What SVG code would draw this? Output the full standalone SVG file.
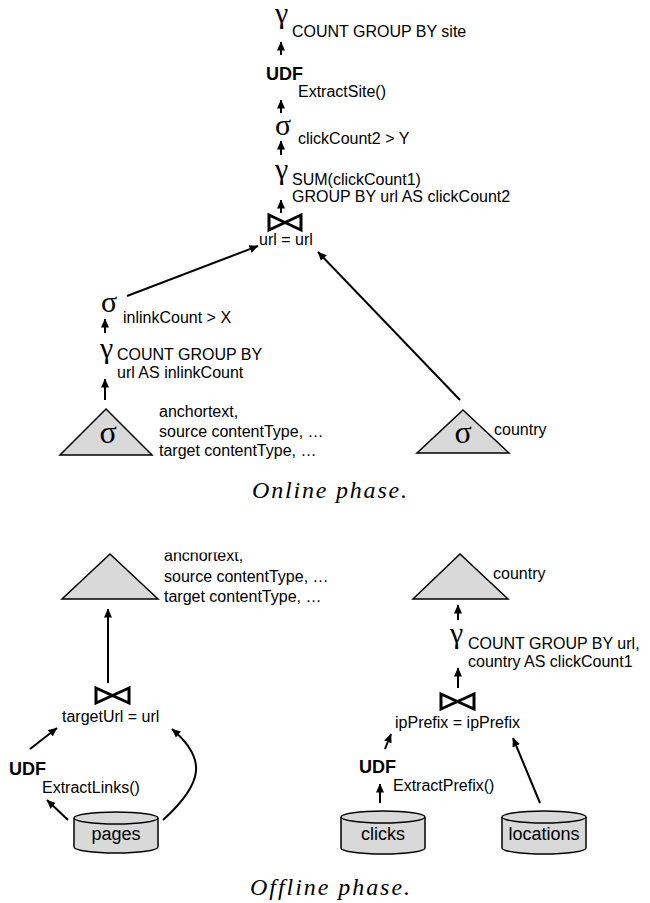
<svg xmlns="http://www.w3.org/2000/svg" width="650" height="903" viewBox="0 0 650 903">
<style>
.t{font-family:"Liberation Sans",Arial,sans-serif;font-size:16px;fill:#000}
.b{font-family:"Liberation Sans",Arial,sans-serif;font-size:18px;font-weight:bold;fill:#000}
.db{font-family:"Liberation Sans",Arial,sans-serif;font-size:18px;fill:#000;text-anchor:middle}
.g{font-family:"Liberation Serif","Times New Roman",serif;font-size:30px;fill:#000}
.gc{font-family:"Liberation Serif","Times New Roman",serif;font-size:32px;fill:#000;text-anchor:middle}
.cap{font-family:"Liberation Serif","Times New Roman",serif;font-style:italic;font-size:24px;fill:#000}
.tri{fill:#d9d9d9;stroke:#000;stroke-width:1.5;stroke-linejoin:miter}
.cyl{fill:#d9d9d9;stroke:#000;stroke-width:1.5}
.bt{fill:none;stroke:#000;stroke-width:3;stroke-linejoin:miter}
.c{fill:none;stroke:#000;stroke-width:2;marker-end:url(#ah)}
</style>
<defs>
<marker id="ah" markerWidth="9" markerHeight="9" refX="8.5" refY="4.5" orient="auto" markerUnits="userSpaceOnUse">
<path d="M0,0.5 L9,4.5 L0,8.5 Z" fill="#000"/>
</marker>
<clipPath id="clipA"><rect x="150" y="552.5" width="200" height="20"/></clipPath>
</defs>

<!-- Online phase -->
<g id="gamma-site">
<text class="g" x="275" y="23">γ</text>
<text class="t" x="292" y="37">COUNT GROUP BY site</text>
</g>
<g id="udf-site">
<text class="b" x="266" y="80">UDF</text>
<text class="t" x="298" y="97">ExtractSite()</text>
</g>
<g id="sigma-click">
<text class="g" x="275" y="135">σ</text>
<text class="t" x="298" y="144">clickCount2 &gt; Y</text>
</g>
<g id="gamma-sum">
<text class="g" x="275" y="179">γ</text>
<text class="t" x="292" y="185">SUM(clickCount1)</text>
<text class="t" x="292" y="202">GROUP BY url AS clickCount2</text>
</g>
<g id="join-url">
<path class="bt" d="M269,215 L301,230 L301,215 L269,230 Z"/>
<text class="t" x="259" y="245">url = url</text>
</g>
<g id="sigma-inlink">
<text class="g" x="101" y="312">σ</text>
<text class="t" x="123" y="323">inlinkCount &gt; X</text>
</g>
<g id="gamma-inlink">
<text class="g" x="100" y="358">γ</text>
<text class="t" x="117" y="360">COUNT GROUP BY</text>
<text class="t" x="117" y="378">url AS inlinkCount</text>
</g>
<g id="view-anchor">
<polygon class="tri" points="106,409 152,455 60,455"/>
<text class="gc" x="108" y="443">σ</text>
<text class="t" x="159" y="417">anchortext,</text>
<text class="t" x="159" y="437">source contentType, …</text>
<text class="t" x="159" y="456">target contentType, …</text>
</g>
<g id="view-country">
<polygon class="tri" points="463,410 509,453 417,453"/>
<text class="gc" x="463" y="443">σ</text>
<text class="t" x="494" y="435">country</text>
</g>
<text class="cap" x="252" y="498" textLength="155" lengthAdjust="spacing">Online phase.</text>

<!-- Offline phase -->
<g id="mv-anchor">
<polygon class="tri" points="110,554 158,599 62,599"/>
<text class="t" x="164" y="561" clip-path="url(#clipA)">anchortext,</text>
<text class="t" x="164" y="582">source contentType, …</text>
<text class="t" x="164" y="602">target contentType, …</text>
</g>
<g id="join-target">
<path class="bt" d="M96,688 L129,703 L129,688 L96,703 Z"/>
<text class="t" x="62" y="722">targetUrl = url</text>
</g>
<g id="udf-links">
<text class="b" x="9" y="775">UDF</text>
<text class="t" x="42" y="793">ExtractLinks()</text>
</g>
<g id="pages">
<path class="cyl" d="M74,818 A42,6 0 0,1 158,818 V847 A42,6 0 0,1 74,847 Z"/>
<path class="cyl" d="M74,818 A42,6 0 0,0 158,818" fill="none"/>
<text class="db" x="116" y="840">pages</text>
</g>
<g id="mv-country">
<polygon class="tri" points="460,554 508,599 413,599"/>
<text class="t" x="493" y="579">country</text>
</g>
<g id="gamma-click">
<text class="g" x="450" y="643">γ</text>
<text class="t" x="468" y="649">COUNT GROUP BY url,</text>
<text class="t" x="468" y="667">country AS clickCount1</text>
</g>
<g id="join-prefix">
<path class="bt" d="M441,694 L474,709 L474,694 L441,709 Z"/>
<text class="t" x="395" y="728">ipPrefix = ipPrefix</text>
</g>
<g id="udf-prefix">
<text class="b" x="359" y="773">UDF</text>
<text class="t" x="393" y="791">ExtractPrefix()</text>
</g>
<g id="clicks">
<path class="cyl" d="M341,817 A42,6 0 0,1 425,817 V848 A42,6 0 0,1 341,848 Z"/>
<path class="cyl" d="M341,817 A42,6 0 0,0 425,817" fill="none"/>
<text class="db" x="383" y="840">clicks</text>
</g>
<g id="locations">
<path class="cyl" d="M502,817 A42,6 0 0,1 586,817 V848 A42,6 0 0,1 502,848 Z"/>
<path class="cyl" d="M502,817 A42,6 0 0,0 586,817" fill="none"/>
<text class="db" x="544" y="840">locations</text>
</g>
<text class="cap" x="250" y="895" textLength="160" lengthAdjust="spacing">Offline phase.</text>

<g id="connectors">
<path class="c" d="M281,55 V42"/>
<path class="c" d="M281,113 V100"/>
<path class="c" d="M281,155 V141"/>
<path class="c" d="M281,213 V200"/>
<path class="c" d="M127,296 L258,246"/>
<path class="c" d="M460,400 L318,252"/>
<path class="c" d="M105,333 V319"/>
<path class="c" d="M105,400 V379"/>
<path class="c" d="M108,683 V609"/>
<path class="c" d="M30,749 L57,728"/>
<path class="c" d="M68,820 L47,800"/>
<path class="c" d="M163,820 C205,782 206,758 172,729"/>
<path class="c" d="M458,688 V668"/>
<path class="c" d="M458,620 V605"/>
<path class="c" d="M380,803 V784"/>
<path class="c" d="M385,749 L391,734"/>
<path class="c" d="M540,803 L513,738"/>
</g>
</svg>
